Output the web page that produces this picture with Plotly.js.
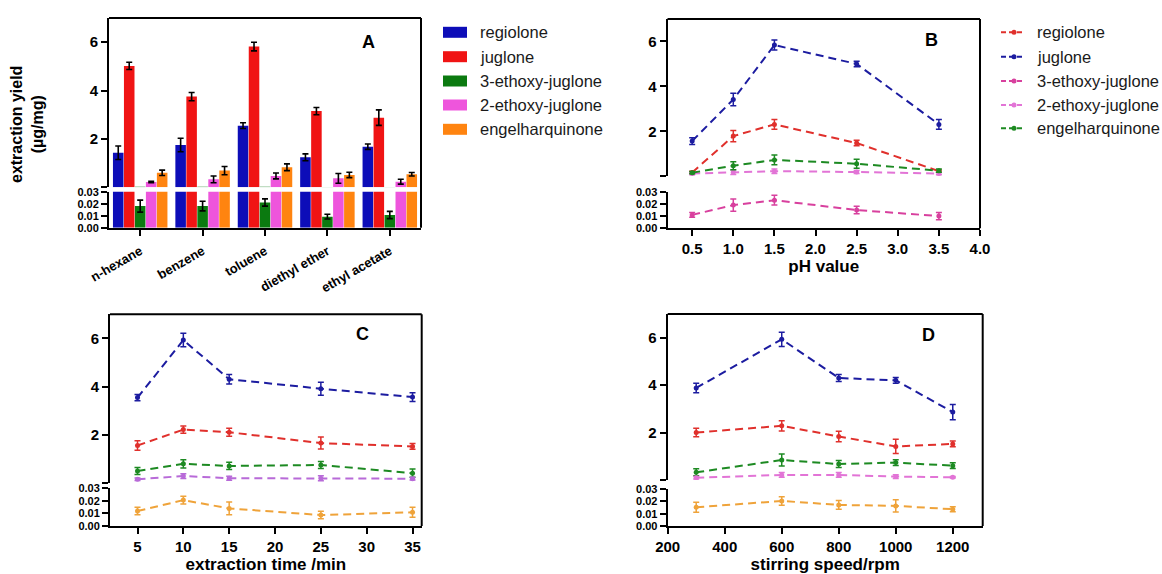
<!DOCTYPE html>
<html><head><meta charset="utf-8">
<script src="https://cdn.plot.ly/plotly-3.0.1.min.js"></script>
<style>html,body{margin:0;padding:0;background:#fff}#chart{width:1162px;height:574px}</style>
</head><body><div id="chart"></div>
<script>
// ---------------- DATA ----------------
const solvents = ['n-hexane', 'benzene', 'toluene', 'diethyl ether', 'ethyl acetate'];
const compounds = ['regiolone', 'juglone', '3-ethoxy-juglone', '2-ethoxy-juglone', 'engelharquinone'];

// Panel A (extraction yield, µg/mg) by solvent
const aRegiolone = [1.43, 1.75, 2.55, 1.24, 1.68];
const aRegioloneErr = [0.28, 0.28, 0.12, 0.14, 0.11];
const aJuglone = [5.02, 3.75, 5.82, 3.15, 2.88];
const aJugloneErr = [0.15, 0.17, 0.18, 0.15, 0.32];
const a3Ethoxy = [0.018, 0.018, 0.021, 0.0092, 0.0106];
const a3EthoxyErr = [0.005, 0.004, 0.003, 0.002, 0.003];
const a2Ethoxy = [0.22, 0.33, 0.47, 0.37, 0.23];
const a2EthoxyErr = [0.03, 0.14, 0.12, 0.2, 0.1];
const aEngel = [0.60, 0.69, 0.83, 0.51, 0.54];
const aEngelErr = [0.11, 0.17, 0.14, 0.11, 0.07];

// Panel B, by pH
const bPH = [0.5, 1.0, 1.5, 2.5, 3.5];
const bRegiolone = [0.17, 1.79, 2.31, 1.48, 0.23];
const bRegioloneErr = [0.05, 0.25, 0.22, 0.12, 0.05];
const bJuglone = [1.57, 3.42, 5.84, 5.0, 2.31];
const bJugloneErr = [0.15, 0.28, 0.22, 0.12, 0.22];
const b3Ethoxy = [0.011, 0.019, 0.023, 0.015, 0.010];
const b3EthoxyErr = [0.002, 0.005, 0.004, 0.003, 0.003];
const b2Ethoxy = [0.12, 0.18, 0.23, 0.19, 0.12];
const b2EthoxyErr = [0.05, 0.1, 0.1, 0.07, 0.05];
const bEngel = [0.16, 0.47, 0.73, 0.56, 0.25];
const bEngelErr = [0.05, 0.18, 0.22, 0.2, 0.07];

// Panel C, by extraction time (min)
const cTime = [5, 10, 15, 25, 35];
const cJuglone = [3.54, 5.93, 4.30, 3.91, 3.56];
const cJugloneErr = [0.13, 0.28, 0.2, 0.27, 0.18];
const cRegiolone = [1.55, 2.21, 2.10, 1.65, 1.51];
const cRegioloneErr = [0.2, 0.15, 0.17, 0.25, 0.12];
const cEngel = [0.49, 0.79, 0.70, 0.74, 0.40];
const cEngelErr = [0.15, 0.17, 0.15, 0.15, 0.17];
const c2Ethoxy = [0.15, 0.28, 0.19, 0.19, 0.17];
const c2EthoxyErr = [0.05, 0.1, 0.08, 0.1, 0.05];
const c3Ethoxy = [0.0119, 0.0206, 0.014, 0.0087, 0.0109];
const c3EthoxyErr = [0.003, 0.003, 0.005, 0.003, 0.004];

// Panel D, by stirring speed (rpm)
const dSpeed = [300, 600, 800, 1000, 1200];
const dJuglone = [3.88, 5.93, 4.30, 4.20, 2.86];
const dJugloneErr = [0.2, 0.3, 0.15, 0.12, 0.32];
const dRegiolone = [2.0, 2.28, 1.83, 1.41, 1.52];
const dRegioloneErr = [0.18, 0.22, 0.22, 0.3, 0.12];
const dEngel = [0.32, 0.84, 0.67, 0.73, 0.60];
const dEngelErr = [0.15, 0.25, 0.15, 0.12, 0.12];
const d2Ethoxy = [0.09, 0.21, 0.21, 0.14, 0.11];
const d2EthoxyErr = [0.05, 0.1, 0.1, 0.08, 0.03];
const d3Ethoxy = [0.0152, 0.0203, 0.0171, 0.0163, 0.0136];
const d3EthoxyErr = [0.004, 0.0035, 0.0035, 0.005, 0.002];

// Tick labels
const upperTickVals = [0, 2, 4, 6];
const upperTickText = ['', '2', '4', '6'];
const lowerTickVals = [0, 0.01, 0.02, 0.03];
const lowerTickText = ['0.00', '0.01', '0.02', '0.03'];
const bTickVals = [0.5, 1.0, 1.5, 2.0, 2.5, 3.0, 3.5, 4.0];
const bTickText = ['0.5', '1.0', '1.5', '2.0', '2.5', '3.0', '3.5', '4.0'];
const cTickVals = [5, 10, 15, 20, 25, 30, 35];
const cTickText = ['5', '10', '15', '20', '25', '30', '35'];
const dTickVals = [200, 400, 600, 800, 1000, 1200];
const dTickText = ['200', '400', '600', '800', '1000', '1200'];

const panelLetters = ['A', 'B', 'C', 'D'];
const yTitle = 'extraction yield<br>(µg/mg)';
const xTitles = ['pH value', 'extraction time /min', 'stirring speed/rpm'];

// ---------------- STYLE / LAYOUT HELPERS ----------------
const W = 1162, H = 574;
const F = "Arial, 'Liberation Sans', Helvetica, sans-serif";
const PX = p => p / W;
const PY = p => 1 - p / H;
const dom = (top, bottom) => [PY(bottom), PY(top)];

const C = {
  blueBar: '#0d0db8', redBar: '#f01414', greenBar: '#0b7a10', pinkBar: '#ee55dc', orangeBar: '#ff8410',
  blue: '#1c1ca0', red: '#e0302c', magenta: '#d8409e', pink: '#e274d6', green: '#1d8a22',
  purple: '#b86ad8', orange: '#efa33a'
};

function yAx(domain, range, vals, text, anchor, fsize) {
  return {
    domain, range, tickvals: vals, ticktext: text, anchor,
    showline: true, linewidth: 2, linecolor: '#000', ticks: 'outside', ticklen: 6, tickwidth: 2,
    tickcolor: '#000', showgrid: false, zeroline: false, fixedrange: true, automargin: false,
    tickfont: { family: F, size: fsize || 15, weight: 'bold', color: '#000' }
  };
}
function xAx(domain, range, vals, text, anchor, title) {
  const ax = {
    domain, range, tickvals: vals, ticktext: text, anchor,
    showline: true, linewidth: 2, linecolor: '#000', ticks: 'outside', ticklen: 6, tickwidth: 2,
    tickcolor: '#000', showgrid: false, zeroline: false, fixedrange: true, automargin: false,
    tickfont: { family: F, size: 15, weight: 'bold', color: '#000' }
  };
  if (title) ax.title = { text: title, standoff: 4, font: { family: F, size: 17, weight: 'bold', color: '#000' } };
  return ax;
}

// Domains (pixel based)
const A = { x: [PX(109), PX(421)], up: dom(18, 187.3), lo: dom(191.7, 227.7) };
const B = { x: [PX(667.5), PX(980)], up: dom(19, 176.3), lo: dom(191.7, 228.3) };
const Cc = { x: [PX(110), PX(421.7)], up: dom(314.3, 482.8), lo: dom(488.3, 526) };
const D = { x: [PX(667.7), PX(982.7)], up: dom(314, 479.9), lo: dom(489, 526) };

// ---------------- TRACES ----------------
const traces = [];
const aSeries = [
  [aRegiolone, aRegioloneErr, C.blueBar],
  [aJuglone, aJugloneErr, C.redBar],
  [a3Ethoxy, a3EthoxyErr, C.greenBar],
  [a2Ethoxy, a2EthoxyErr, C.pinkBar],
  [aEngel, aEngelErr, C.orangeBar]
];
aSeries.forEach((s, i) => {
  ['y', 'y2'].forEach(ya => {
    const showErr = (ya === 'y') ? (i !== 2) : (i === 2);
    traces.push({
      type: 'bar', name: compounds[i], x: solvents, y: s[0], xaxis: 'x', yaxis: ya,
      marker: { color: s[2], line: { width: 0 } }, showlegend: false, hoverinfo: 'x+y',
      error_y: { type: 'data', array: s[1], visible: showErr, color: '#000', thickness: 1.6, width: 3 }
    });
  });
});

function lineTrace(name, x, y, err, color, xa, ya) {
  return {
    type: 'scatter', mode: 'lines+markers', name, x, y, xaxis: xa, yaxis: ya, showlegend: false,
    line: { color, width: 2, dash: '8px,5px' },
    marker: { color, size: 5 },
    error_y: { type: 'data', array: err, color, thickness: 1.5, width: 3 }
  };
}
// B
traces.push(lineTrace(compounds[0], bPH, bRegiolone, bRegioloneErr, C.red, 'x2', 'y3'));
traces.push(lineTrace(compounds[1], bPH, bJuglone, bJugloneErr, C.blue, 'x2', 'y3'));
traces.push(lineTrace(compounds[3], bPH, b2Ethoxy, b2EthoxyErr, C.pink, 'x2', 'y3'));
traces.push(lineTrace(compounds[4], bPH, bEngel, bEngelErr, C.green, 'x2', 'y3'));
traces.push(lineTrace(compounds[2], bPH, b3Ethoxy, b3EthoxyErr, C.magenta, 'x2', 'y4'));
// C
traces.push(lineTrace(compounds[1], cTime, cJuglone, cJugloneErr, C.blue, 'x3', 'y5'));
traces.push(lineTrace(compounds[0], cTime, cRegiolone, cRegioloneErr, C.red, 'x3', 'y5'));
traces.push(lineTrace(compounds[4], cTime, cEngel, cEngelErr, C.green, 'x3', 'y5'));
traces.push(lineTrace(compounds[3], cTime, c2Ethoxy, c2EthoxyErr, C.purple, 'x3', 'y5'));
traces.push(lineTrace(compounds[2], cTime, c3Ethoxy, c3EthoxyErr, C.orange, 'x3', 'y6'));
// D
traces.push(lineTrace(compounds[1], dSpeed, dJuglone, dJugloneErr, C.blue, 'x4', 'y7'));
traces.push(lineTrace(compounds[0], dSpeed, dRegiolone, dRegioloneErr, C.red, 'x4', 'y7'));
traces.push(lineTrace(compounds[4], dSpeed, dEngel, dEngelErr, C.green, 'x4', 'y7'));
traces.push(lineTrace(compounds[3], dSpeed, d2Ethoxy, d2EthoxyErr, C.pink, 'x4', 'y7'));
traces.push(lineTrace(compounds[2], dSpeed, d3Ethoxy, d3EthoxyErr, C.orange, 'x4', 'y8'));

// ---------------- LAYOUT ----------------
const shapes = [];
const annotations = [];
function frame(P) {
  shapes.push({ type: 'line', xref: 'paper', yref: 'paper', x0: P.x[0], x1: P.x[1], y0: P.up[1], y1: P.up[1], line: { color: '#000', width: 2 } });
  shapes.push({ type: 'line', xref: 'paper', yref: 'paper', x0: P.x[1], x1: P.x[1], y0: P.lo[0], y1: P.up[1], line: { color: '#000', width: 2 } });
}
[A, B, Cc, D].forEach(frame);

// Panel letters
[[368, 42], [931, 40], [362, 334], [928, 335]].forEach((p, i) => {
  annotations.push({ xref: 'paper', yref: 'paper', x: PX(p[0]), y: PY(p[1]), text: panelLetters[i], showarrow: false,
    font: { family: F, size: 18, weight: 'bold', color: '#000' }, xanchor: 'center', yanchor: 'middle' });
});
// Y title
annotations.push({ xref: 'paper', yref: 'paper', x: PX(27), y: PY(125), text: yTitle, textangle: -90, showarrow: false,
  font: { family: F, size: 16, weight: 'bold', color: '#000' }, xanchor: 'center', yanchor: 'middle' });

// Legend A (bars)
const legRows = [32.3, 56.7, 81, 105, 129.3];
const barColors = [C.blueBar, C.redBar, C.greenBar, C.pinkBar, C.orangeBar];
compounds.forEach((n, i) => {
  shapes.push({ type: 'rect', xref: 'paper', yref: 'paper', x0: PX(443), x1: PX(467), y0: PY(legRows[i] + 5.5), y1: PY(legRows[i] - 5.5),
    fillcolor: barColors[i], line: { width: 0 } });
  annotations.push({ xref: 'paper', yref: 'paper', x: PX(478), y: PY(legRows[i]), text: n, showarrow: false,
    xanchor: 'left', yanchor: 'middle', font: { family: F, size: 16.5, color: '#1a1a1a' } });
});
// Legend B (lines)
const lineColors = [C.red, C.blue, C.magenta, C.pink, C.green];
const legRowsB = [32.3, 56.7, 81, 105, 128.3];
compounds.forEach((n, i) => {
  shapes.push({ type: 'line', xref: 'paper', yref: 'paper', x0: PX(1001), x1: PX(1025), y0: PY(legRowsB[i]), y1: PY(legRowsB[i]),
    line: { color: lineColors[i], width: 2, dash: '5px,3px' } });
  shapes.push({ type: 'circle', xref: 'paper', yref: 'paper', x0: PX(1011.5), x1: PX(1016.5), y0: PY(legRowsB[i] + 2.5), y1: PY(legRowsB[i] - 2.5),
    fillcolor: lineColors[i], line: { width: 0 } });
  annotations.push({ xref: 'paper', yref: 'paper', x: PX(1035), y: PY(legRowsB[i]), text: n, showarrow: false,
    xanchor: 'left', yanchor: 'middle', font: { family: F, size: 16.5, color: '#1a1a1a' } });
});

const xA = xAx(A.x, [-0.5, 4.5], null, null, 'y2');
delete xA.tickvals; delete xA.ticktext;
Object.assign(xA, { type: 'category', tickangle: -30, ticklabelstandoff: 3,
  tickfont: { family: F, size: 13, weight: 'bold', color: '#000' } });

const LOW_FONT = 11;
const layout = {
  width: W, height: H, margin: { l: 0, r: 0, t: 0, b: 0, pad: 0 },
  paper_bgcolor: '#fff', plot_bgcolor: 'rgba(0,0,0,0)', showlegend: false,
  font: { family: F, color: '#000' },
  barmode: 'group', bargap: 0.12, bargroupgap: 0.04,
  xaxis: xA,
  yaxis: yAx(A.up, [0, 7], upperTickVals, upperTickText, 'x'),
  yaxis2: yAx(A.lo, [0, 0.03], lowerTickVals, lowerTickText, 'x', LOW_FONT),
  xaxis2: xAx(B.x, [0.2, 4.0], bTickVals, bTickText, 'y4', xTitles[0]),
  yaxis3: yAx(B.up, [0, 7], upperTickVals, upperTickText, 'x2'),
  yaxis4: yAx(B.lo, [0, 0.03], lowerTickVals, lowerTickText, 'x2', LOW_FONT),
  xaxis3: xAx(Cc.x, [2, 36], cTickVals, cTickText, 'y6', xTitles[1]),
  yaxis5: yAx(Cc.up, [0, 7], upperTickVals, upperTickText, 'x3'),
  yaxis6: yAx(Cc.lo, [0, 0.03], lowerTickVals, lowerTickText, 'x3', LOW_FONT),
  xaxis4: xAx(D.x, [200, 1305], dTickVals, dTickText, 'y8', xTitles[2]),
  yaxis7: yAx(D.up, [0, 7], upperTickVals, upperTickText, 'x4'),
  yaxis8: yAx(D.lo, [0, 0.03], lowerTickVals, lowerTickText, 'x4', LOW_FONT),
  shapes, annotations
};

Plotly.newPlot('chart', traces, layout, { displayModeBar: false, staticPlot: true });
</script>
</body></html>
